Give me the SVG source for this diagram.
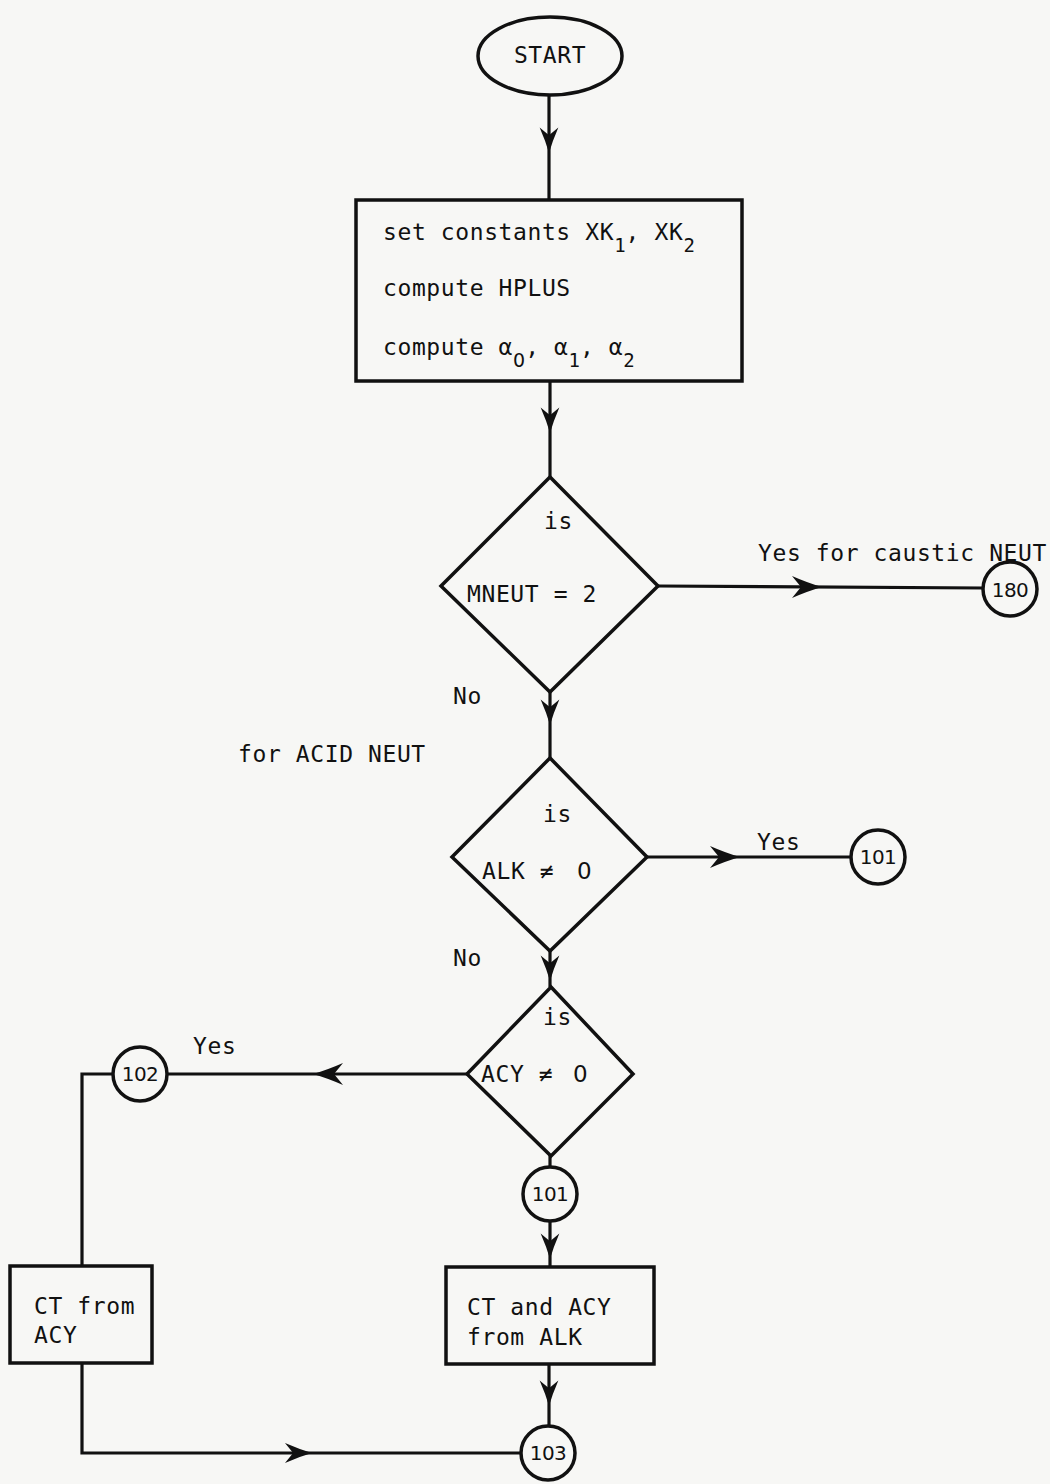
<svg xmlns="http://www.w3.org/2000/svg" xmlns:xlink="http://www.w3.org/1999/xlink" width="1050" height="1484" viewBox="0 0 1050 1484">
<style>
  .bg { fill: #f7f7f5; }
  .shape { fill: none; stroke: #111; stroke-width: 3.5; stroke-linejoin: miter; }
  .conn { fill: none; stroke: #111; stroke-width: 3.2; }
  .ah { fill: #111; stroke: none; }
  text { font-family: "DejaVu Sans Mono", "Liberation Mono", monospace; fill: #111; }
  .t { font-size: 23px; letter-spacing: 0.6px; }
  .tb { font-size: 23px; letter-spacing: 0.6px; }
  .sub { font-size: 19px; letter-spacing: 0px; }
  .dg { font-family: "DejaVu Sans", "Liberation Sans", sans-serif; }
  .num { font-family: "DejaVu Sans", "Liberation Sans", sans-serif; font-size: 20px; text-anchor: middle; letter-spacing: -0.5px; }
</style>
<defs>
  <path id="ah" d="M0,0 Q-14,-4 -30,-11 L-21,0 L-30,11 Q-14,4 0,0 Z"/>
</defs>
<rect class="bg" x="0" y="0" width="1050" height="1484"/>

<g id="connectors">
  <line class="conn" x1="549" y1="95" x2="549" y2="200"/>
  <use class="ah" xlink:href="#ah" transform="translate(549,153) rotate(90) scale(0.85)"/>
  <line class="conn" x1="550" y1="381" x2="550" y2="477"/>
  <use class="ah" xlink:href="#ah" transform="translate(550,433) rotate(90) scale(0.85)"/>
  <line class="conn" x1="658" y1="586" x2="983" y2="588"/>
  <use class="ah" xlink:href="#ah" transform="translate(822,587)"/>
  <line class="conn" x1="550" y1="692" x2="550" y2="758"/>
  <use class="ah" xlink:href="#ah" transform="translate(550,725) rotate(90) scale(0.85)"/>
  <line class="conn" x1="647" y1="857" x2="851" y2="857"/>
  <use class="ah" xlink:href="#ah" transform="translate(740,857)"/>
  <line class="conn" x1="550" y1="950" x2="550" y2="987"/>
  <use class="ah" xlink:href="#ah" transform="translate(550,981) rotate(90) scale(0.85)"/>
  <line class="conn" x1="467" y1="1074" x2="168" y2="1074"/>
  <use class="ah" xlink:href="#ah" transform="translate(313,1074) rotate(180)"/>
  <polyline class="conn" points="112,1074 82,1074 82,1266"/>
  <line class="conn" x1="550" y1="1155" x2="550" y2="1167"/>
  <line class="conn" x1="550" y1="1221" x2="550" y2="1267"/>
  <use class="ah" xlink:href="#ah" transform="translate(550,1259) rotate(90) scale(0.85)"/>
  <line class="conn" x1="549" y1="1364" x2="549" y2="1426"/>
  <use class="ah" xlink:href="#ah" transform="translate(549,1406) rotate(90) scale(0.85)"/>
  <polyline class="conn" points="82,1363 82,1453 521,1453"/>
  <use class="ah" xlink:href="#ah" transform="translate(312,1453) scale(0.9)"/>
</g>

<g id="start">
  <ellipse class="shape" cx="550" cy="56" rx="72" ry="39"/>
  <text class="t" x="550" y="63" text-anchor="middle">START</text>
</g>

<g id="init">
  <rect class="shape" x="356" y="200" width="386" height="181"/>
  <text class="tb" x="383" y="240">set constants XK<tspan class="sub" dy="12">1</tspan><tspan dy="-12">, XK</tspan><tspan class="sub" dy="12">2</tspan></text>
  <text class="tb" x="383" y="296">compute HPLUS</text>
  <text class="tb" x="383" y="355">compute α<tspan class="sub dg" dy="12">0</tspan><tspan dy="-12">, α</tspan><tspan class="sub" dy="12">1</tspan><tspan dy="-12">, α</tspan><tspan class="sub" dy="12">2</tspan></text>
</g>

<g id="dec-mneut">
  <polygon class="shape" points="550,477 658,586 550,692 441,586"/>
  <text class="t" x="544" y="529">is</text>
  <text class="t" x="467" y="602">MNEUT = 2</text>
</g>
<text class="t" x="758" y="561">Yes for caustic NEUT</text>
<text class="t" x="453" y="704">No</text>
<text class="t" x="238" y="762">for ACID NEUT</text>

<g id="conn-180">
  <circle class="shape" cx="1010" cy="589" r="27"/>
  <text class="num" x="1010" y="597">180</text>
</g>

<g id="dec-alk">
  <polygon class="shape" points="550,758 647,857 550,951 452,857"/>
  <text class="t" x="543" y="822">is</text>
  <text class="t" x="482" y="879">ALK ≠</text>
  <text class="t dg" x="577" y="879">0</text>
</g>
<text class="t" x="757" y="850">Yes</text>
<text class="t" x="453" y="966">No</text>

<g id="conn-101a">
  <circle class="shape" cx="878" cy="857" r="27"/>
  <text class="num" x="878" y="864">101</text>
</g>

<g id="dec-acy">
  <polygon class="shape" points="551,987 633,1074 551,1156 467,1074"/>
  <text class="t" x="543" y="1025">is</text>
  <text class="t" x="481" y="1082">ACY ≠</text>
  <text class="t dg" x="573" y="1082">0</text>
</g>
<text class="t" x="193" y="1054">Yes</text>

<g id="conn-102">
  <circle class="shape" cx="140" cy="1074" r="27"/>
  <text class="num" x="140" y="1081">102</text>
</g>

<g id="conn-101b">
  <circle class="shape" cx="550" cy="1194" r="27"/>
  <text class="num" x="550" y="1201">101</text>
</g>

<g id="ct-from-acy">
  <rect class="shape" x="10" y="1266" width="142" height="97"/>
  <text class="t" x="34" y="1314">CT from</text>
  <text class="t" x="34" y="1343">ACY</text>
</g>

<g id="ct-acy-from-alk">
  <rect class="shape" x="446" y="1267" width="208" height="97"/>
  <text class="t" x="467" y="1315">CT and ACY</text>
  <text class="t" x="467" y="1345">from ALK</text>
</g>

<g id="conn-103">
  <circle class="shape" cx="548" cy="1453" r="27"/>
  <text class="num" x="548" y="1460">103</text>
</g>
</svg>
